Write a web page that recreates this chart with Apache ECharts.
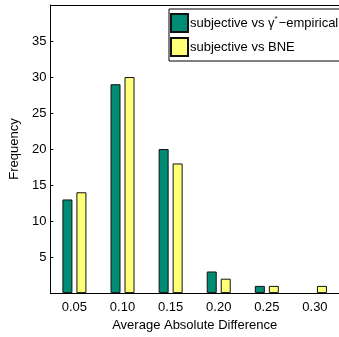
<!DOCTYPE html>
<html>
<head>
<meta charset="utf-8">
<script src="https://cdn.jsdelivr.net/npm/echarts@6/dist/echarts.min.js"></script>
<style>
  html, body { margin: 0; padding: 0; background: #fff; }
  #chart { width: 339px; height: 337px; }
</style>
</head>
<body>
<div id="chart"></div>
<script>
// values
const categories = ["0.05", "0.10", "0.15", "0.20", "0.25", "0.30"];
const empiricalCounts = [13, 29, 20, 3, 1, 0];
const bneCounts = [14, 30, 18, 2, 1, 1];
const seriesNames = ["subjective vs γ* −empirical", "subjective vs BNE"];

const font = "'Liberation Sans', Arial, Helvetica, sans-serif";
const chart = echarts.init(document.getElementById("chart"), null, { renderer: "canvas" });

const barStyle = color => ({
  color: color,
  borderColor: "#111",
  borderWidth: 1
});

// zero-height bars draw nothing in the original, so drop their outline
const toBarData = values =>
  values.map(v => (v === 0 ? { value: v, itemStyle: { borderWidth: 0 } } : v));

chart.setOption({
  animation: false,
  textStyle: { fontFamily: font },
  grid: { left: 50, top: 5, width: 294, height: 292.5 },
  legend: {
    orient: "vertical",
    left: 169,
    top: 9,
    padding: [4, 14, 4, 1],
    itemGap: 4,
    itemWidth: 17,
    itemHeight: 18,
    icon: "rect",
    backgroundColor: "#fff",
    borderColor: "#000",
    borderWidth: 1,
    borderRadius: 0,
    data: seriesNames,
    formatter: function(name) {
      if (name === seriesNames[0]) {
        return "{a|subjective vs γ}{s|*}{a|−empirical}";
      }
      return "{a|" + name + "}";
    },
    textStyle: {
      padding: [0, 0, 0, -3],
      rich: {
        a: { fontFamily: font, fontSize: 13, color: "#000" },
        s: { fontFamily: font, fontSize: 8, color: "#000", padding: [0, 1, 9, 0] }
      }
    }
  },
  xAxis: [
    {
      type: "category",
      data: categories,
      position: "bottom",
      name: "Average Absolute Difference",
      nameLocation: "middle",
      nameGap: 20,
      nameTextStyle: { fontFamily: font, fontSize: 13, color: "#000" },
      axisLine: { lineStyle: { color: "#000", width: 1 } },
      axisTick: { inside: true, length: 3, lineStyle: { color: "#000" } },
      axisLabel: { fontFamily: font, fontSize: 13, color: "#000", margin: 8 }
    },
    {
      type: "category",
      data: categories,
      position: "top",
      axisLine: { lineStyle: { color: "#000", width: 1 } },
      axisTick: { inside: true, length: 3, lineStyle: { color: "#000" } },
      axisLabel: { show: false }
    }
  ],
  yAxis: {
    type: "value",
    min: 0,
    max: 40,
    interval: 5,
    name: "Frequency",
    nameLocation: "middle",
    nameGap: 26,
    nameTextStyle: { fontFamily: font, fontSize: 13, color: "#000" },
    axisLine: { show: true, lineStyle: { color: "#000", width: 1 } },
    axisTick: { show: true, inside: true, length: 3, lineStyle: { color: "#000" } },
    splitLine: { show: false },
    axisLabel: {
      fontFamily: font,
      fontSize: 13,
      color: "#000",
      margin: 4,
      formatter: function(value) {
        return value === 0 || value === 40 ? "" : String(value);
      }
    }
  },
  series: [
    {
      name: seriesNames[0],
      type: "bar",
      data: toBarData(empiricalCounts),
      barWidth: 10,
      barGap: "40%",
      itemStyle: barStyle("#008c74")
    },
    {
      name: seriesNames[1],
      type: "bar",
      data: toBarData(bneCounts),
      barWidth: 10,
      barGap: "40%",
      itemStyle: barStyle("#ffff78")
    }
  ]
});
</script>
</body>
</html>
